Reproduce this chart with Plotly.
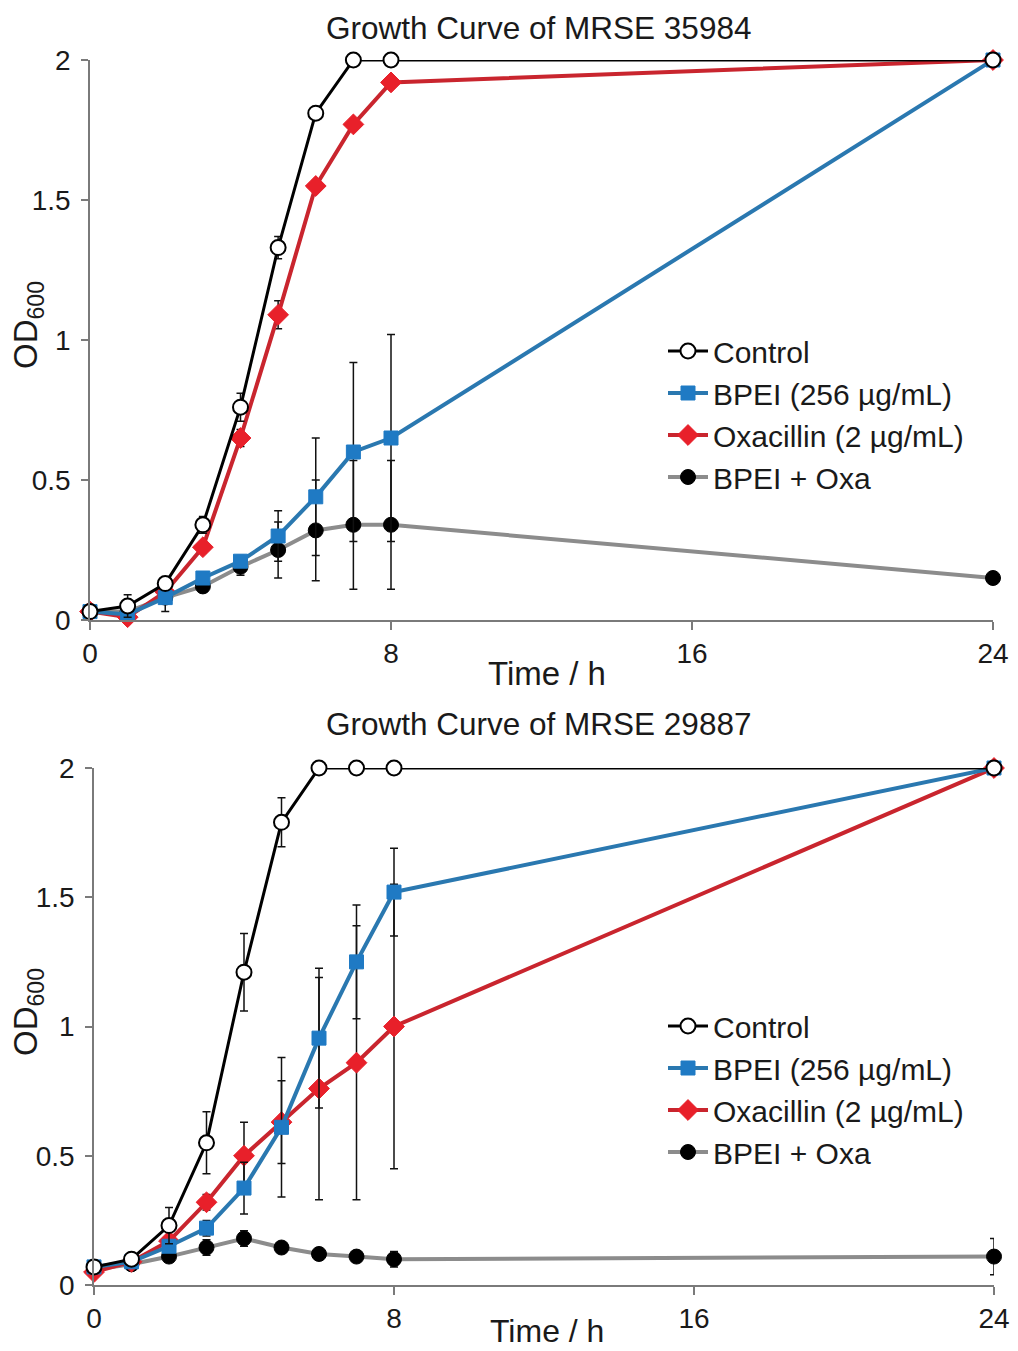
import plotly.graph_objects as go

time = [0, 1, 2, 3, 4, 5, 6, 7, 8, 24]

# MRSE 35984
ctrl1 = [0.03, 0.05, 0.13, 0.34, 0.76, 1.33, 1.81, 2.0, 2.0, 2.0]
ctrl1_err = [0.01, 0.04, 0.02, 0.03, 0.05, 0.04, 0.02, 0, 0, 0]
bpei1 = [0.03, 0.02, 0.08, 0.15, 0.21, 0.30, 0.44, 0.60, 0.65, 2.0]
bpei1_err = [0, 0, 0.02, 0.02, 0.02, 0.09, 0.21, 0.32, 0.37, 0]
oxa1 = [0.03, 0.01, 0.10, 0.26, 0.65, 1.09, 1.55, 1.77, 1.92, 2.0]
oxa1_err = [0, 0, 0, 0.02, 0.03, 0.05, 0.02, 0.02, 0.02, 0]
combo1 = [0.03, 0.03, 0.08, 0.12, 0.19, 0.25, 0.32, 0.34, 0.34, 0.15]
combo1_err = [0, 0, 0.05, 0.02, 0.03, 0.10, 0.18, 0.23, 0.23, 0]

# MRSE 29887
ctrl2 = [0.07, 0.10, 0.23, 0.55, 1.21, 1.79, 2.0, 2.0, 2.0, 2.0]
ctrl2_err = [0.01, 0.01, 0.07, 0.12, 0.15, 0.095, 0, 0, 0, 0]
bpei2 = [0.07, 0.09, 0.15, 0.22, 0.375, 0.61, 0.955, 1.25, 1.52, 2.0]
bpei2_err = [0, 0, 0.02, 0.03, 0.10, 0.27, 0.27, 0.22, 0.17, 0]
oxa2 = [0.05, 0.09, 0.17, 0.32, 0.50, 0.63, 0.76, 0.86, 1.00, 2.0]
oxa2_err = [0, 0, 0.02, 0.03, 0.13, 0.16, 0.43, 0.53, 0.55, 0]
combo2 = [0.06, 0.08, 0.11, 0.145, 0.18, 0.145, 0.12, 0.11, 0.10, 0.11]
combo2_err = [0, 0, 0.01, 0.03, 0.03, 0.02, 0.02, 0.02, 0.03, 0.07]

names = ["BPEI + Oxa", "Oxacillin (2 µg/mL)", "BPEI (256 µg/mL)", "Control"]
titles = ["Growth Curve of MRSE 35984", "Growth Curve of MRSE 29887"]
x_ticks = [0, 8, 16, 24]
y_ticks = [0, 0.5, 1, 1.5, 2]
y_ticklabels = ["0", "0.5", "1", "1.5", "2"]

FONT = "Liberation Sans, Arial, sans-serif"
TXT = "#1a1a1a"
AX = "#7a7a7a"

styles = [
    dict(line=dict(color="#8c8c8c", width=4),
         marker=dict(symbol="circle", size=15, color="#000000", line=dict(color="#000000", width=1))),
    dict(line=dict(color="#c9252e", width=4),
         marker=dict(symbol="diamond", size=16, color="#e8202a", line=dict(color="#e8202a", width=1))),
    dict(line=dict(color="#2a78b0", width=4),
         marker=dict(symbol="square", size=14, color="#1f7ac4", line=dict(color="#1f7ac4", width=1))),
    dict(line=dict(color="#000000", width=3),
         marker=dict(symbol="circle", size=15, color="#ffffff", line=dict(color="#000000", width=2))),
]

fig = go.Figure()

datasets = [
    ([combo1, oxa1, bpei1, ctrl1], [combo1_err, oxa1_err, bpei1_err, ctrl1_err]),
    ([combo2, oxa2, bpei2, ctrl2], [combo2_err, oxa2_err, bpei2_err, ctrl2_err]),
]

for p, (ys, errs) in enumerate(datasets):
    xa = "x" if p == 0 else "x2"
    ya = "y" if p == 0 else "y2"
    lg = "legend" if p == 0 else "legend2"
    for i in range(4):
        fig.add_trace(go.Scatter(
            x=time, y=ys[i], name=names[i], mode="lines+markers",
            line=styles[i]["line"], marker=styles[i]["marker"],
            error_y=dict(type="data", array=errs[i], visible=True,
                         color="#111111", thickness=1.5, width=4),
            xaxis=xa, yaxis=ya, legend=lg, cliponaxis=False,
        ))

# page body has an 8px margin; figure sized to fill the remaining window
OFF = 8
W, H = 1010, 1343
ML, MR, MT, MB = 20, 20, 20, 20
PW, PH = W - ML - MR, H - MT - MB

def px(v):
    return (v - OFF - ML) / PW

def py(v):
    return 1 - (v - OFF - MT) / PH

axis_common = dict(
    showgrid=False, zeroline=False, showline=True, linecolor=AX, linewidth=1.5,
    ticks="outside", tickcolor=AX, tickwidth=1.5, automargin=False,
    tickfont=dict(family=FONT, size=28, color=TXT),
)

LEG_FONT = 30

fig.update_layout(
    width=W, height=H, margin=dict(l=ML, r=MR, t=MT, b=MB, autoexpand=False),
    paper_bgcolor="white", plot_bgcolor="white",
    font=dict(family=FONT, color=TXT),
    xaxis=dict(domain=[px(90), px(993)], range=[0, 24], tickvals=x_ticks, ticklen=8,
               anchor="y", ticklabelstandoff=0, **axis_common),
    yaxis=dict(domain=[py(620), py(60)], range=[0, 2], tickvals=y_ticks, ticktext=y_ticklabels,
               ticklen=7, anchor="x", ticklabelstandoff=5, **axis_common),
    xaxis2=dict(domain=[px(94), px(994)], range=[0, 24], tickvals=x_ticks, ticklen=8,
                anchor="y2", ticklabelstandoff=0, **axis_common),
    yaxis2=dict(domain=[py(1285), py(768)], range=[0, 2], tickvals=y_ticks, ticktext=y_ticklabels,
                ticklen=7, anchor="x2", ticklabelstandoff=5, **axis_common),
    legend=dict(x=px(663), y=py(325), xanchor="left", yanchor="top", traceorder="reversed",
                font=dict(family=FONT, size=LEG_FONT, color=TXT), bgcolor="rgba(0,0,0,0)",
                tracegroupgap=0, itemwidth=40),
    legend2=dict(x=px(663), y=py(1000), xanchor="left", yanchor="top", traceorder="reversed",
                 font=dict(family=FONT, size=LEG_FONT, color=TXT), bgcolor="rgba(0,0,0,0)",
                 tracegroupgap=0, itemwidth=40),
    showlegend=True,
)

annots = [
    (538, 28, titles[0], 0, 31.5),
    (538, 724, titles[1], 0, 31.5),
    (547, 673, "Time / h", 0, 33),
    (547, 1331, "Time / h", 0, 32),
    (28, 325, "OD<sub>600</sub>", -90, 33),
    (28, 1012, "OD<sub>600</sub>", -90, 33),
]
for xx, yy, t, ang, sz in annots:
    fig.add_annotation(x=px(xx), y=py(yy), xref="paper", yref="paper", text=t,
                       showarrow=False, textangle=ang, xanchor="center", yanchor="middle",
                       font=dict(family=FONT, size=sz, color=TXT))

fig.write_html("out.html")
